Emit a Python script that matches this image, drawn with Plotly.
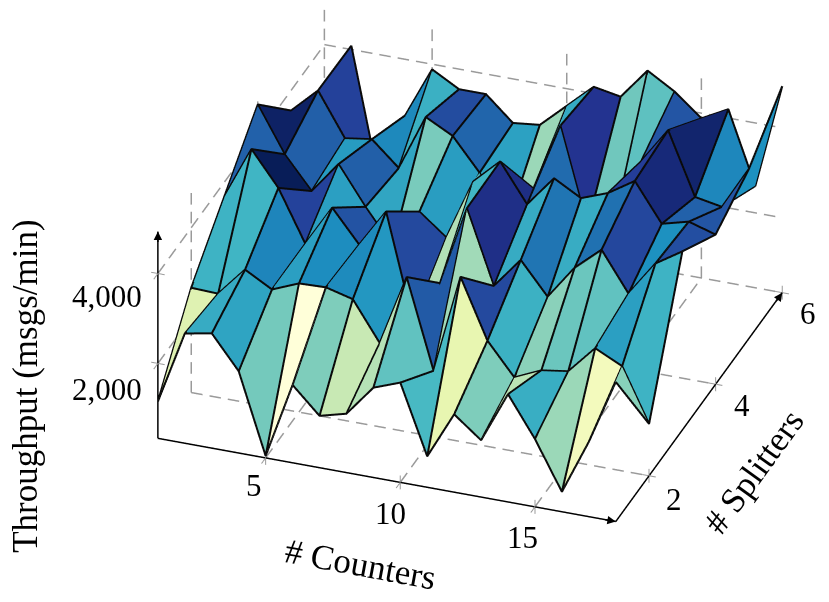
import math
import plotly.graph_objects as go
import plotly.colors as pc

counters = list(range(1, 19))
splitters = [1, 2, 3, 4, 5, 6]
x_ticks = [5, 10, 15]
y_ticks = [2, 4, 6]
z_ticks = [2000, 4000]
z_labels = ["2,000", "4,000"]

row_1 = [1154, 2775, 2886, 2153, 377, 2065, 1487, 1643, 2331, 2553, 1021, 2065, 1598, 2731, 1843, 777, 1998, 3441]
row_2 = [2664, 2642, 3286, 2953, 3197, 3219, 3064, 2198, 3774, 1798, 3996, 2686, 1976, 2242, 2331, 2953, 2664, 1487]
row_3 = [3685, 4840, 4085, 2953, 3863, 3152, 3996, 1665, 2620, 4396, 2775, 3463, 2753, 3508, 4018, 3152, 3929, 4307]
row_4 = [4706, 3707, 2997, 3707, 2864, 2109, 2975, 2509, 3863, 4418, 3574, 4262, 3929, 4151, 4529, 3685, 3841, 3663]
row_5 = [3552, 4107, 3152, 3241, 2708, 3952, 3641, 2930, 1843, 2797, 4307, 2198, 2353, 3841, 4640, 3263, 3152, 4107]
row_6 = [2309, 4085, 1265, 2753, 3885, 3552, 3552, 3019, 3086, 3619, 4151, 4040, 4729, 4373, 3885, 4196, 2597, 4928]
rows = [row_1, row_2, row_3, row_4, row_5, row_6]

X0, X1, Y0, Y1, Z0, Z1 = 1, 18, 1, 6, 333, 4933
PAD = 0.04
nx, ny = len(counters), len(splitters)


def view(x, y, z):
    """Approximate on-screen direction, used only to pick quad diagonals and dash lengths."""
    return (27 * x + 33.4 * y, 4.9 * x - 45.6 * y - 0.045 * z)


def area(p, q, r):
    return (q[0] - p[0]) * (r[1] - p[1]) - (q[1] - p[1]) * (r[0] - p[0])


vx, vy, vz, ti, tj, tk, cell = [], [], [], [], [], [], []
for j in range(ny):
    for i in range(nx):
        vx.append(counters[i]); vy.append(splitters[j]); vz.append(rows[j][i])
for j in range(ny - 1):
    for i in range(nx - 1):
        a = j * nx + i
        b, c, d = a + 1, a + nx + 1, a + nx
        pa, pb, pc_, pd = [view(vx[n], vy[n], vz[n]) for n in (a, b, c, d)]
        a1, a2 = area(pa, pb, pc_), area(pa, pc_, pd)
        b1, b2 = area(pa, pb, pd), area(pb, pc_, pd)
        if a1 * a2 > 0:
            tris = [(a, b, c), (a, c, d)]
        elif b1 * b2 > 0:
            tris = [(a, b, d), (b, c, d)]
        elif abs(a1) + abs(a2) < abs(b1) + abs(b2):
            tris = [(a, b, c), (a, c, d)]
        else:
            tris = [(a, b, d), (b, c, d)]
        for p, q, r in tris:
            ti.append(p); tj.append(q); tk.append(r)
            cell.append(rows[j][i])

fig = go.Figure()
fig.add_trace(go.Mesh3d(x=vx, y=vy, z=vz, i=ti, j=tj, k=tk, intensity=cell, intensitymode="cell",
                        colorscale=pc.sequential.YlGnBu, showscale=False, flatshading=True,
                        lighting=dict(ambient=1, diffuse=0, specular=0, fresnel=0, roughness=1),
                        hoverinfo="skip"))

# mesh edges, nudged along the viewing direction so they win the depth test against their own faces
NUDGE_X, NUDGE_Y, NUDGE_Z = 0.031, -0.025, 29
lx, ly, lz = [], [], []
for j in range(ny):
    for i in range(nx):
        lx.append(counters[i] + NUDGE_X); ly.append(splitters[j] + NUDGE_Y); lz.append(rows[j][i] + NUDGE_Z)
    lx.append(None); ly.append(None); lz.append(None)
for i in range(nx):
    for j in range(ny):
        lx.append(counters[i] + NUDGE_X); ly.append(splitters[j] + NUDGE_Y); lz.append(rows[j][i] + NUDGE_Z)
    lx.append(None); ly.append(None); lz.append(None)
fig.add_trace(go.Scatter3d(x=lx, y=ly, z=lz, mode="lines", line=dict(color="#0a0a0a", width=4), hoverinfo="skip"))


def seg(px, py, pz, p, q):
    px += [p[0], q[0], None]; py += [p[1], q[1], None]; pz += [p[2], q[2], None]


def dashed(px, py, pz, p, q, period=19.0, on=0.62):
    s, e = view(*p), view(*q)
    n = max(1, round(math.hypot(e[0] - s[0], e[1] - s[1]) / period))
    for k in range(n):
        t0, t1 = k / n, (k + on) / n
        seg(px, py, pz,
            [p[m] + (q[m] - p[m]) * t0 for m in range(3)],
            [p[m] + (q[m] - p[m]) * t1 for m in range(3)])


# dashed grid on floor and back walls
gx, gy, gz = [], [], []
for t in x_ticks:
    dashed(gx, gy, gz, (t, Y0, Z0), (t, Y1, Z0))
    dashed(gx, gy, gz, (t, Y1, Z0), (t, Y1, Z1))
for t in y_ticks:
    dashed(gx, gy, gz, (X0, t, Z0), (X1, t, Z0))
    dashed(gx, gy, gz, (X0, t, Z0), (X0, t, Z1))
for t in z_ticks:
    dashed(gx, gy, gz, (X0, Y0, t), (X0, Y1, t))
    dashed(gx, gy, gz, (X0, Y1, t), (X1, Y1, t))
dashed(gx, gy, gz, (X0, Y1, Z0), (X1, Y1, Z0))
dashed(gx, gy, gz, (X0, Y1, Z0), (X0, Y1, Z1))
fig.add_trace(go.Scatter3d(x=gx, y=gy, z=gz, mode="lines", line=dict(color="#9a9a9a", width=3), hoverinfo="skip"))

# gray tick crosses
TX, TY, TZ = 0.25, 0.124, 155
kx, ky, kz = [], [], []
for t in x_ticks:
    seg(kx, ky, kz, (t, Y0 - TY, Z0), (t, Y0 + TY, Z0))
    seg(kx, ky, kz, (t, Y0, Z0 - TZ), (t, Y0, Z0 + TZ))
for t in y_ticks:
    seg(kx, ky, kz, (X1 - TX, t, Z0), (X1 + TX, t, Z0))
    seg(kx, ky, kz, (X1, t, Z0 - TZ), (X1, t, Z0 + TZ))
for t in z_ticks:
    seg(kx, ky, kz, (X0 - TX, Y0, t), (X0 + TX, Y0, t))
    seg(kx, ky, kz, (X0, Y0 - TY, t), (X0, Y0 + TY, t))
fig.add_trace(go.Scatter3d(x=kx, y=ky, z=kz, mode="lines", line=dict(color="#9a9a9a", width=2), hoverinfo="skip"))

# axis lines
ax_x, ax_y, ax_z = [], [], []
seg(ax_x, ax_y, ax_z, (X0, Y0, Z1), (X0, Y0, Z0))
seg(ax_x, ax_y, ax_z, (X0, Y0, Z0), (X1, Y0, Z0))
seg(ax_x, ax_y, ax_z, (X1, Y0, Z0), (X1, Y1, Z0))
fig.add_trace(go.Scatter3d(x=ax_x, y=ax_y, z=ax_z, mode="lines", line=dict(color="black", width=3), hoverinfo="skip"))

font = dict(family="Liberation Serif", size=31, color="black")
title_font = dict(family="Liberation Serif", size=35, color="black")
notes = []


def label(x, y, z, text, dx, dy, angle=0, f=font):
    notes.append(dict(x=x, y=y, z=z, text=text, showarrow=False, xshift=dx, yshift=dy, textangle=angle, font=f))


for t, dx, dy in zip(x_ticks, [-12, -10, -12], [-28, -31, -31]):
    label(t, Y0, Z0, str(t), dx, dy)
for t, dx, dy in zip(y_ticks, [25, 26, 26], [-24, -21, -21]):
    label(X1, t, Z0, str(t), dx, dy)
for t, s, dy in zip(z_ticks, z_labels, [-26, -23]):
    label(X0, Y0, t, s, -51, dy)
label(9.5, Y0, Z0, "# Counters", -26, -85, 10.5, title_font)
label(X1, 3.5, Z0, "# Splitters", 55, -64, -54, title_font)
label(X0, Y0, 2633, "Throughput (msgs/min)", -132, -51, -90, title_font)
for head, tail in [((X0, Y0, Z1), (0, 12)), ((X1, Y0, Z0), (-12, -2)), ((X1, Y1, Z0), (-7, 10))]:
    notes.append(dict(x=head[0], y=head[1], z=head[2], text="", showarrow=True, arrowhead=2, arrowsize=1.2,
                      arrowwidth=1.4, arrowcolor="black", ax=tail[0], ay=tail[1]))

L = 1.218
cx, cy, cz = -0.122, -0.127, -0.135
dir_x, dir_y, dir_z = 0.296, -0.814, 0.5
ZOOM = 1.748


def rng(lo, hi):
    p = (hi - lo) * PAD
    return [lo - p, hi + p]


fig.update_layout(
    width=829, height=602, margin=dict(l=0, r=0, t=0, b=0), paper_bgcolor="white", showlegend=False,
    scene=dict(
        domain=dict(x=[0, 1], y=[0, 1]),
        xaxis=dict(range=rng(X0, X1), visible=False),
        yaxis=dict(range=rng(Y0, Y1), visible=False),
        zaxis=dict(range=rng(Z0, Z1), visible=False),
        aspectmode="manual", aspectratio=dict(x=ZOOM, y=ZOOM, z=0.49 * ZOOM),
        camera=dict(projection=dict(type="orthographic"), up=dict(x=0, y=0, z=1),
                    center=dict(x=cx, y=cy, z=cz),
                    eye=dict(x=cx + dir_x * L, y=cy + dir_y * L, z=cz + dir_z * L)),
        annotations=notes,
    ),
)
fig.write_html("out.html")
